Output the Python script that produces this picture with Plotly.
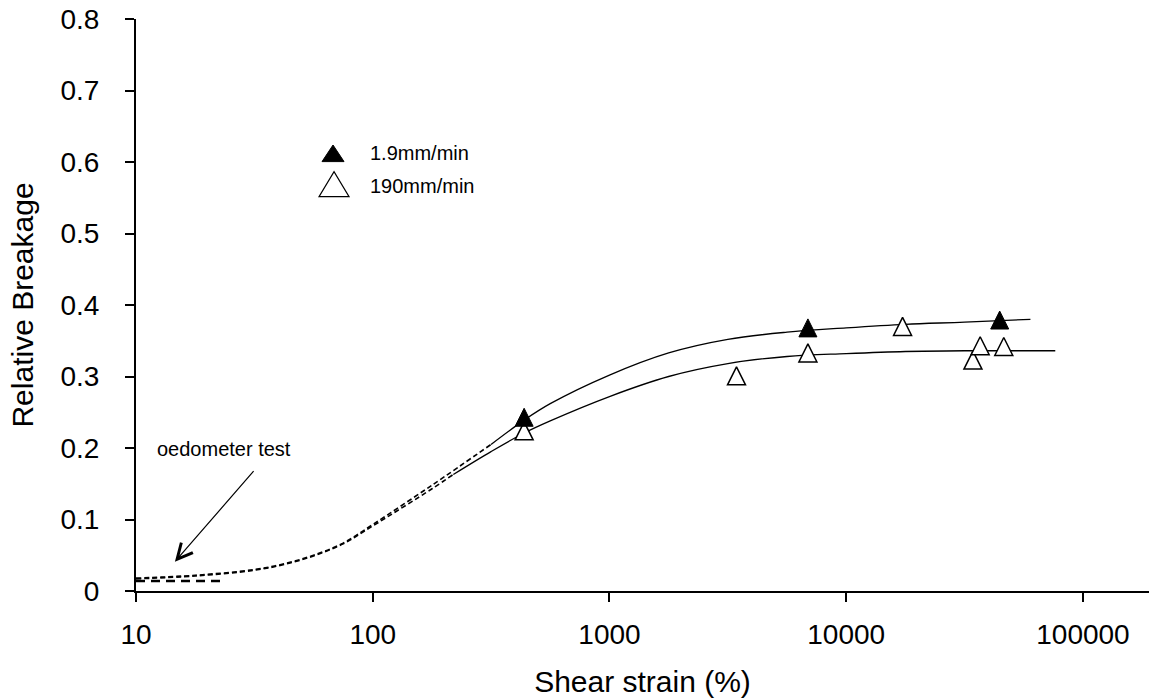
import math
import plotly.graph_objects as go

# Measured data: relative breakage vs. shear strain
slow_x = [436, 6890, 44500]                      # 1.9 mm/min
slow_y = [0.243, 0.368, 0.379]
fast_x = [436, 3440, 6890, 17300, 34300, 36800, 46300]   # 190 mm/min
fast_y = [0.224, 0.301, 0.333, 0.370, 0.323, 0.343, 0.342]

# Fitted trend curves (dashed = extrapolated part, solid = fitted range)
slow_ext_x = [10, 17.8, 31.6, 42.2, 56.2, 75, 100, 178, 316]
slow_ext_y = [0.018, 0.022, 0.030, 0.038, 0.050, 0.067, 0.093, 0.148, 0.205]
slow_fit_x = [316, 436, 562, 1000, 1778, 3162, 5623, 10000, 17783, 31623, 60000]
slow_fit_y = [0.205, 0.239, 0.262, 0.302, 0.333, 0.352, 0.362, 0.368, 0.373, 0.376, 0.380]

fast_ext_x = [10, 17.8, 31.6, 42.2, 56.2, 75, 100, 178, 219]
fast_ext_y = [0.017, 0.021, 0.029, 0.037, 0.049, 0.066, 0.091, 0.143, 0.163]
fast_fit_x = [219, 316, 436, 562, 1000, 1778, 3162, 5623, 10000, 17783, 31623, 76400]
fast_fit_y = [0.163, 0.195, 0.221, 0.238, 0.272, 0.300, 0.318, 0.328, 0.332, 0.335, 0.336, 0.336]

# Oedometer test level
oedo_x = [10, 23.3]
oedo_y = [0.014, 0.014]

x_tickvals = [10, 100, 1000, 10000, 100000]
x_ticktext = ["10", "100", "1000", "10000", "100000"]
y_tickvals = [0, 0.1, 0.2, 0.3, 0.4, 0.5, 0.6, 0.7, 0.8]
y_ticktext = ["0", "0.1", "0.2", "0.3", "0.4", "0.5", "0.6", "0.7", "0.8"]

FONT = "Liberation Sans, Arial, sans-serif"

fig = go.Figure()

dash_line = dict(color="black", width=1.6, dash="5px,3px")
solid_line = dict(color="black", width=1.3)

for xs, ys, ln in [
    (slow_ext_x, slow_ext_y, dash_line),
    (fast_ext_x, fast_ext_y, dash_line),
    (slow_fit_x, slow_fit_y, solid_line),
    (fast_fit_x, fast_fit_y, solid_line),
]:
    fig.add_trace(go.Scatter(x=xs, y=ys, mode="lines", line=dict(shape="spline", smoothing=1.0, **ln),
                             showlegend=False, hoverinfo="skip"))

fig.add_trace(go.Scatter(x=oedo_x, y=oedo_y, mode="lines",
                         line=dict(color="black", width=2.6, dash="9px,6px"),
                         showlegend=False, hoverinfo="skip"))

# Triangles: flipped arrow symbol, pushed back by half its size so it is centred
tri = dict(symbol="arrow-down", angle=180, size=18, standoff=9)
fig.add_trace(go.Scatter(x=fast_x, y=fast_y, mode="markers", name="190mm/min", showlegend=False,
                         marker=dict(color="white", line=dict(color="black", width=1.5), **tri)))
fig.add_trace(go.Scatter(x=slow_x, y=slow_y, mode="markers", name="1.9mm/min", showlegend=False,
                         marker=dict(color="black", line=dict(color="black", width=1), **tri)))

# Legend drawn by hand
shapes = [
    dict(type="path", xref="paper", yref="paper", xsizemode="pixel", ysizemode="pixel",
         xanchor=0.1945, yanchor=0.7652, path="M -11,-8.3 L 11,-8.3 L 0,8.3 Z",
         fillcolor="black", line=dict(color="black", width=1)),
    dict(type="path", xref="paper", yref="paper", xsizemode="pixel", ysizemode="pixel",
         xanchor=0.1955, yanchor=0.7112, path="M -15,-12.5 L 15,-12.5 L 0,12.5 Z",
         fillcolor="white", line=dict(color="black", width=1.2)),
]

annotations = [
    dict(text="1.9mm/min", xref="paper", yref="paper", x=0.229, y=0.765, xanchor="left",
         yanchor="middle", showarrow=False, font=dict(size=20, color="black", family=FONT)),
    dict(text="190mm/min", xref="paper", yref="paper", x=0.229, y=0.708, xanchor="left",
         yanchor="middle", showarrow=False, font=dict(size=20, color="black", family=FONT)),
    dict(text="oedometer test", xref="paper", yref="paper", x=0.0869, y=0.248, xanchor="center",
         yanchor="middle", showarrow=False, font=dict(size=20, color="black", family=FONT)),
    dict(text="", x=math.log10(14.6), y=0.041, xref="x", yref="y", showarrow=True,
         ax=80, ay=-92, arrowhead=5, arrowsize=2.5, arrowwidth=1.2, arrowcolor="black"),
]

fig.update_layout(
    width=1149, height=700,
    margin=dict(l=136, r=0, t=19, b=109),
    paper_bgcolor="white", plot_bgcolor="white",
    font=dict(family=FONT, color="black"),
    shapes=shapes, annotations=annotations,
    xaxis=dict(type="log", range=[1, 5.279], showgrid=False, zeroline=False,
               showline=True, linecolor="black", linewidth=2,
               ticks="outside", ticklen=9, tickwidth=2, tickcolor="black",
               tickvals=x_tickvals, ticktext=x_ticktext, ticklabelstandoff=8,
               tickfont=dict(size=28, family=FONT, color="black"),
               title=dict(text="Shear strain (%)", font=dict(size=30, family=FONT, color="black"),
                          standoff=22)),
    yaxis=dict(range=[0, 0.8], showgrid=False, zeroline=False,
               showline=True, linecolor="black", linewidth=2,
               ticks="outside", ticklen=9, tickwidth=2, tickcolor="black",
               tickvals=y_tickvals, ticktext=y_ticktext, ticklabelstandoff=20,
               tickfont=dict(size=28, family=FONT, color="black"),
               title=dict(text="Relative Breakage", font=dict(size=30, family=FONT, color="black"),
                          standoff=18)),
)

fig.write_html("out.html")
